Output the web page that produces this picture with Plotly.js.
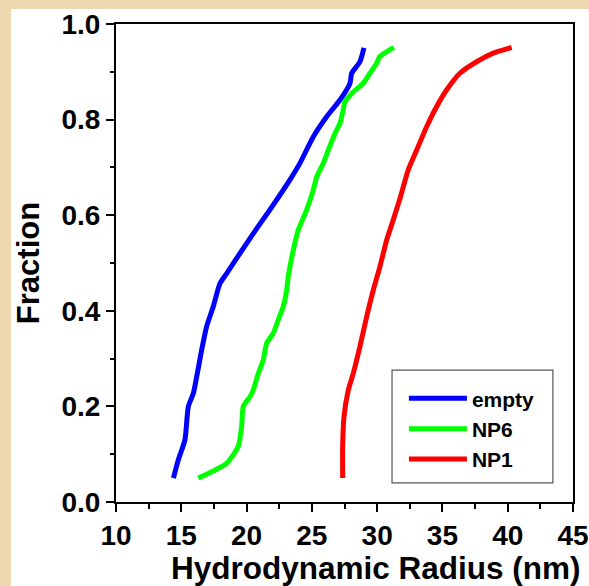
<!DOCTYPE html>
<html>
<head>
<meta charset="utf-8">
<script src="https://cdn.plot.ly/plotly-3.0.1.min.js"></script>
<style>
  html, body { margin: 0; padding: 0; background: #efd8b0; width: 589px; height: 586px; overflow: hidden; }
  #chart { position: absolute; left: 11px; top: 9px; width: 578px; height: 577px; background: #fff; }
</style>
</head>
<body>
<div id="chart"></div>
<script>
// ---- data ----
var seriesNames = ["empty", "NP6", "NP1"];

var emptyX = [14.4, 14.77, 15.28, 15.54, 15.92, 16.18, 16.56, 16.94, 17.45, 17.96, 18.47, 19.49, 20.77, 21.6, 22.4, 23.32, 24.09, 25.11, 26.13, 27.15, 27.92, 28.05, 28.68, 28.99];
var emptyY = [0.05, 0.088, 0.13, 0.2, 0.227, 0.262, 0.318, 0.367, 0.409, 0.457, 0.478, 0.52, 0.572, 0.604, 0.636, 0.674, 0.709, 0.764, 0.806, 0.841, 0.876, 0.897, 0.921, 0.95];

var np6X = [16.3, 18.47, 19.36, 19.62, 19.75, 20.26, 20.51, 20.9, 21.28, 21.54, 22.04, 22.43, 22.81, 23.07, 23.19, 23.58, 23.96, 24.6, 25.11, 25.37, 25.88, 26.26, 26.77, 27.15, 27.4, 27.53, 28.17, 28.94, 29.45, 29.96, 30.21, 31.29];
var np6Y = [0.05, 0.081, 0.116, 0.158, 0.2, 0.22, 0.234, 0.269, 0.297, 0.332, 0.353, 0.381, 0.409, 0.443, 0.471, 0.527, 0.569, 0.611, 0.653, 0.68, 0.709, 0.736, 0.771, 0.792, 0.82, 0.837, 0.858, 0.876, 0.897, 0.918, 0.932, 0.951];

var np1X = [27.36, 27.36, 27.46, 27.79, 28.17, 28.68, 29.2, 29.7, 30.21, 30.73, 31.23, 31.75, 32.38, 33.02, 33.79, 34.55, 35.32, 36.34, 37.62, 38.89, 40.3];
var np1Y = [0.05, 0.116, 0.178, 0.234, 0.269, 0.325, 0.388, 0.443, 0.492, 0.548, 0.59, 0.635, 0.695, 0.736, 0.785, 0.827, 0.862, 0.897, 0.921, 0.939, 0.951];

var xTickVals = [10, 15, 20, 25, 30, 35, 40, 45];
var yTickVals = [0.0, 0.2, 0.4, 0.6, 0.8, 1.0];
var xTitle = "Hydrodynamic Radius (nm)";
var yTitle = "Fraction";

var colors = ["#0000ff", "#00ff00", "#ff0000"];
var xs = [emptyX, np6X, np1X];
var ys = [emptyY, np6Y, np1Y];

var traces = seriesNames.map(function (n, i) {
  return {
    x: xs[i], y: ys[i], name: n, type: "scatter", mode: "lines",
    line: { color: colors[i], width: 5, shape: "spline", smoothing: 0.6 }
  };
});

var fam = "Liberation Sans, Arial, sans-serif";
var tickFont = { family: fam, size: 28, color: "#000", weight: "bold" };
var titleFont = { family: fam, size: 31, color: "#000", weight: "bold" };
var xTitleFont = { family: fam, size: 31.5, color: "#000", weight: "bold" };

var layout = {
  width: 578, height: 577,
  margin: { l: 105, r: 16, t: 15, b: 84 },
  paper_bgcolor: "#ffffff",
  plot_bgcolor: "#ffffff",
  showlegend: true,
  legend: {
    x: 0.630, y: 0.259, xanchor: "left", yanchor: "top",
    borderwidth: 0, bgcolor: "rgba(0,0,0,0)",
    font: { family: fam, size: 21, color: "#000", weight: "bold" },
    itemwidth: 58
  },
  shapes: [{
    type: "rect", xref: "paper", yref: "paper", x0: 0.604, x1: 0.956, y0: 0.040, y1: 0.276,
    line: { color: "#555", width: 1.2 }, fillcolor: "rgba(0,0,0,0)", layer: "below"
  }],
  xaxis: {
    range: [10, 45], tickvals: xTickVals, ticks: "outside", ticklen: 8, tickwidth: 2,
    tickcolor: "#000", linecolor: "#000", linewidth: 2, mirror: true, showgrid: false, zeroline: false,
    tickfont: tickFont, ticklabeloverflow: "allow", ticklabelstandoff: -1,
    minor: { dtick: 2.5, ticks: "outside", ticklen: 5, tickwidth: 2, tickcolor: "#000", showgrid: false }
  },
  yaxis: {
    range: [0, 1], tickvals: yTickVals, tickformat: ".1f", ticks: "outside", ticklen: 8, tickwidth: 2,
    tickcolor: "#000", linecolor: "#000", linewidth: 2, mirror: true, showgrid: false, zeroline: false,
    tickfont: tickFont, ticklabeloverflow: "allow",
    title: { text: yTitle, font: titleFont, standoff: 21 },
    minor: { dtick: 0.1, ticks: "outside", ticklen: 4, tickwidth: 2, tickcolor: "#000", showgrid: false }
  },
  annotations: [{
    text: xTitle, xref: "paper", yref: "paper", x: 0.57, y: -0.139,
    xanchor: "center", yanchor: "middle", showarrow: false, font: xTitleFont
  }]
};

Plotly.newPlot("chart", traces, layout, { displayModeBar: false, staticPlot: true });
</script>
</body>
</html>
